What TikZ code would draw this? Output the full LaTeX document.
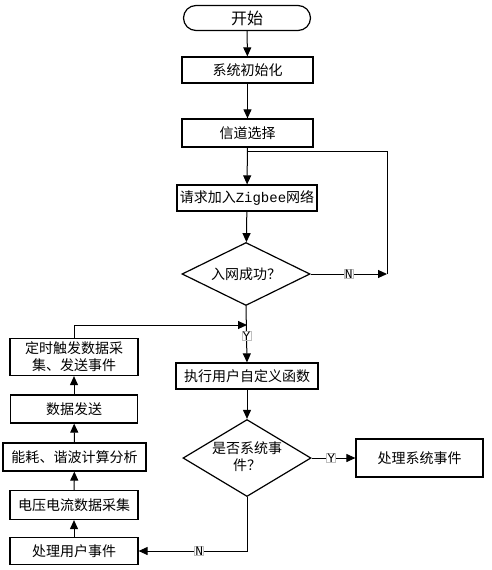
\documentclass[tikz,border=0pt]{standalone}
\usepackage{fontspec}
\setmainfont{Noto Sans CJK SC}
\newfontfamily\monof{Liberation Mono}
\usetikzlibrary{arrows.meta,shapes.geometric}
\tikzset{
  box/.style={draw, line width=1.2pt, inner sep=0pt, font=\fontsize{14}{16}\selectfont, align=center},
  dia/.style={draw, diamond, line width=1.2pt, inner sep=0pt},
  txt/.style={inner sep=0pt, font=\fontsize{14}{17}\selectfont, align=center},
  arr/.style={line width=1pt, -{Triangle[length=9pt,width=8pt]}},
  ln/.style={line width=1pt},
  lbl/.style={draw=black!25, fill=white, inner sep=0.6pt, font=\monof\fontsize{13}{13}\selectfont}
}
\begin{document}
\begin{tikzpicture}[x=1pt,y=-1pt]
\useasboundingbox (0,0) rectangle (491,570);
% main column
\node[box, rounded corners=12.5pt, minimum width=127pt, minimum height=25pt, font=\fontsize{16}{18}\selectfont] (start) at (247,18) {开始};
\node[box, minimum width=131pt, minimum height=26pt] (init) at (247.5,70) {系统初始化};
\node[box, minimum width=131pt, minimum height=28pt] (chan) at (247.5,133) {信道选择};
\node[box, minimum width=140pt, minimum height=26pt] (req) at (247,198) {请求加入{\monof\fontsize{14}{16}\selectfont Zigbee}网络};
\node[dia, minimum width=128pt, minimum height=63pt] (d1) at (246,274) {};
\node[txt] (d1t) at (d1) {入网成功？};
\node[box, minimum width=142pt, minimum height=26pt] (exec) at (247,376) {执行用户自定义函数};
\node[dia, minimum width=128pt, minimum height=77pt] (d2) at (247,458) {};
\node[txt] (d2t) at (247,457) {是否系统事\\件？};
\node[box, minimum width=127pt, minimum height=38pt] (sys) at (419.5,458) {处理系统事件};
% left column
\node[box, minimum width=128pt, minimum height=37pt, font=\fontsize{14}{17}\selectfont] (t1) at (74,357) {定时触发数据采\\集、发送事件};
\node[box, minimum width=127pt, minimum height=28pt] (t2) at (74,409) {数据发送};
\node[box, minimum width=143pt, minimum height=28pt] (t3) at (74.5,457) {能耗、谐波计算分析};
\node[box, minimum width=128pt, minimum height=29pt] (t4) at (74,505) {电压电流数据采集};
\node[box, minimum width=128pt, minimum height=27pt] (t5) at (74,551) {处理用户事件};
% helper coordinates
\coordinate (c1) at (387,274);
\coordinate (c2) at (387,151);
\coordinate (c3) at (247,151);
\coordinate (cy) at (247,325);
% connectors
\draw[arr] (start) -- (init);
\draw[arr] (init) -- (chan);
\draw[arr] (chan) -- (req);
\draw[arr] (req) -- (d1);
\draw[arr] (d1.east) -- node[lbl, pos=0.5] {N} (c1);
\draw[ln] (c1) -- (c2) -- (c3);
\draw[arr] (d1.south) -- node[lbl, pos=0.53] {Y} (exec.north);
\draw[arr] (t1.north) |- (cy);
\draw[arr] (exec) -- (d2);
\draw[arr] (d2.east) -- node[lbl, pos=0.45] {Y} (sys.west);
\draw[arr] (d2.south) |- node[lbl, pos=0.72] {N} (t5.east);
\draw[arr] (t5) -- (t4);
\draw[arr] (t4) -- (t3);
\draw[arr] (t3) -- (t2);
\draw[arr] (t2) -- (t1);
\end{tikzpicture}
\end{document}
